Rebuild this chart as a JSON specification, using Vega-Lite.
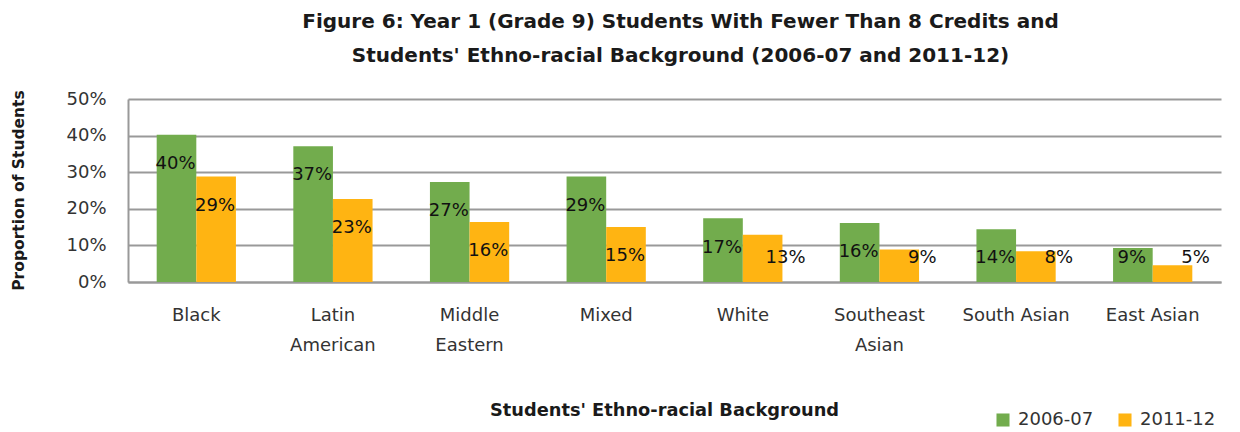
{
  "$schema": "https://vega.github.io/schema/vega-lite/v6.json",
  "autosize": {"type": "none"},
  "width": 1093,
  "height": 183,
  "padding": {"left": 128, "top": 99, "right": 19, "bottom": 150},
  "background": "white",
  "config": {
    "view": {"stroke": null},
    "font": "DejaVu Sans"
  },
  "title": {
    "text": ["Figure 6: Year 1 (Grade 9)  Students With Fewer Than 8 Credits and", "Students' Ethno-racial Background  (2006-07  and 2011-12)"],
    "anchor": "middle",
    "font": "DejaVu Sans",
    "fontSize": 20,
    "fontWeight": "bold",
    "color": "#1a1a1a",
    "lineHeight": 34,
    "offset": 24,
    "dx": 6
  },
  "data": {
    "values": [
      {"group": "Black", "series": "2006-07", "value": 0.402},
      {"group": "Black", "series": "2011-12", "value": 0.288},
      {"group": "Latin American", "series": "2006-07", "value": 0.371},
      {"group": "Latin American", "series": "2011-12", "value": 0.227},
      {"group": "Middle Eastern", "series": "2006-07", "value": 0.273},
      {"group": "Middle Eastern", "series": "2011-12", "value": 0.164},
      {"group": "Mixed", "series": "2006-07", "value": 0.288},
      {"group": "Mixed", "series": "2011-12", "value": 0.150},
      {"group": "White", "series": "2006-07", "value": 0.174},
      {"group": "White", "series": "2011-12", "value": 0.129},
      {"group": "Southeast Asian", "series": "2006-07", "value": 0.161},
      {"group": "Southeast Asian", "series": "2011-12", "value": 0.089},
      {"group": "South Asian", "series": "2006-07", "value": 0.144},
      {"group": "South Asian", "series": "2011-12", "value": 0.084},
      {"group": "East Asian", "series": "2006-07", "value": 0.093},
      {"group": "East Asian", "series": "2011-12", "value": 0.046}
    ]
  },
  "transform": [
    {"calculate": "max(datum.value - 0.08, 0.066)", "as": "labelY"}
  ],
  "encoding": {
    "x": {
      "field": "group",
      "type": "nominal",
      "sort": null,
      "scale": {"paddingInner": 0.42, "paddingOuter": 0.21},
      "axis": {
        "title": "Students' Ethno-racial  Background",
        "titleFont": "DejaVu Sans",
        "titleFontSize": 17.8,
        "titleFontWeight": "bold",
        "titleColor": "#1a1a1a",
        "titleX": 536,
        "titleY": 128,
        "titleBaseline": "middle",
        "labelAngle": 0,
        "labelFontSize": 18,
        "labelColor": "#333333",
        "labelPadding": 24,
        "labelBaseline": "top",
        "labelLineHeight": 30,
        "labelExpr": "indexof(['Latin American','Middle Eastern','Southeast Asian'], datum.label) >= 0 ? split(datum.label, ' ') : datum.label",
        "ticks": false,
        "domainColor": "#999999",
        "domainWidth": 2
      }
    },
    "xOffset": {"field": "series", "type": "nominal", "scale": {"paddingInner": 0, "paddingOuter": 0}},
    "y": {
      "field": "value",
      "type": "quantitative",
      "scale": {"domain": [0, 0.5]},
      "axis": {
        "title": "Proportion of Students",
        "titleFont": "DejaVu Sans",
        "titleFontSize": 15.5,
        "titleFontWeight": "bold",
        "titleColor": "#1a1a1a",
        "titleAngle": -90,
        "titleX": -110,
        "titleY": 91,
        "titleAlign": "center",
        "titleBaseline": "middle",
        "format": ".0%",
        "values": [0, 0.1, 0.2, 0.3, 0.4, 0.5],
        "labelFontSize": 18,
        "labelColor": "#333333",
        "labelPadding": 22,
        "ticks": false,
        "grid": true,
        "gridColor": "#999999",
        "gridWidth": 2,
        "domainColor": "#999999",
        "domainWidth": 2
      }
    }
  },
  "layer": [
    {
      "mark": {"type": "bar"},
      "encoding": {
        "color": {
          "field": "series",
          "type": "nominal",
          "scale": {"domain": ["2006-07", "2011-12"], "range": ["#72AC4D", "#FFB412"]},
          "legend": {
            "title": null,
            "orient": "none",
            "direction": "horizontal",
            "legendX": 866,
            "legendY": 312,
            "symbolType": "square",
            "symbolSize": 170,
            "symbolStrokeWidth": 0,
            "labelFontSize": 18,
            "labelColor": "#333333",
            "columnPadding": 22,
            "labelOffset": 6
          }
        }
      }
    },
    {
      "transform": [{"filter": "!(datum.series == '2011-12' && datum.value < 0.14)"}],
      "mark": {"type": "text", "fontSize": 18, "color": "#111111", "baseline": "middle", "dx": -1},
      "encoding": {
        "y": {"field": "labelY", "type": "quantitative"},
        "text": {"field": "value", "type": "quantitative", "format": ".0%"}
      }
    },
    {
      "transform": [{"filter": "datum.series == '2011-12' && datum.value < 0.14"}],
      "mark": {"type": "text", "fontSize": 18, "color": "#111111", "baseline": "middle", "dx": 23},
      "encoding": {
        "y": {"field": "labelY", "type": "quantitative"},
        "text": {"field": "value", "type": "quantitative", "format": ".0%"}
      }
    }
  ]
}
